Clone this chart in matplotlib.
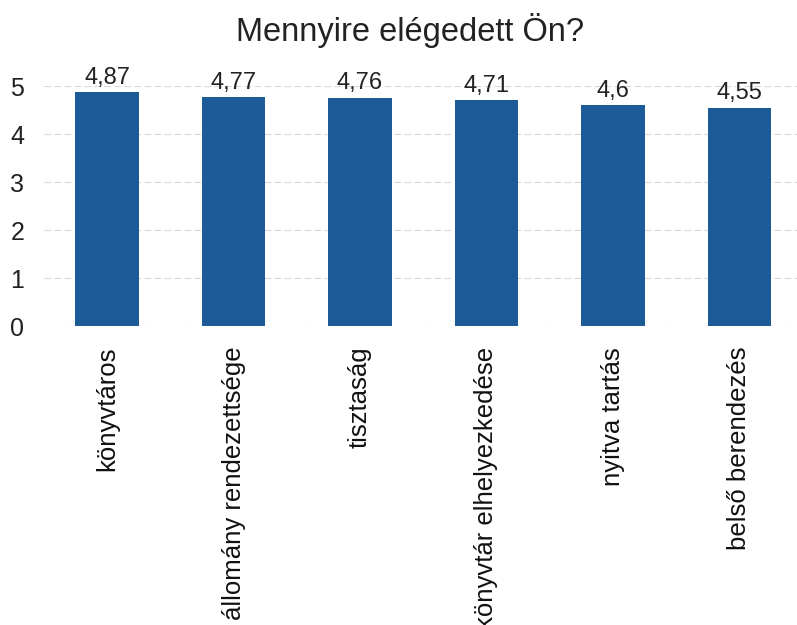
import matplotlib.pyplot as plt
import numpy as np

plt.rcParams['font.family'] = ['Liberation Sans', 'DejaVu Sans']

categories = ["könyvtáros", "állomány rendezettsége", "tisztaság",
              "könyvtár elhelyezkedése", "nyitva tartás", "belső berendezés"]
values = [4.87, 4.77, 4.76, 4.71, 4.6, 4.55]
value_labels = ["4,87", "4,77", "4,76", "4,71", "4,6", "4,55"]

fig = plt.figure(figsize=(7.97, 6.25), dpi=100)
ax = fig.add_axes([0.055, 0.4784, 0.952, 0.384])

x = np.arange(len(categories))
ax.bar(x, values, width=0.5, color="#1c5a98", zorder=3)

for xi, v, lab in zip(x, values, value_labels):
  ax.text(xi, v + 0.07, lab, ha="center", va="bottom", fontsize=17, color="#222222")

ax.set_xlim(-0.5, 5.5)
ax.set_ylim(0, 5)
ax.set_yticks(range(0, 6))
ax.tick_params(axis="y", length=0, labelsize=18, pad=14, colors="#222222")
ax.set_xticks(x)
ax.set_xticklabels(categories, rotation=90, fontsize=18.5, va="top", color="#111111")
ax.tick_params(axis="x", length=0, pad=15)

ax.grid(axis="y", color="#d8d8d8", linestyle=(0, (6, 3)), linewidth=0.8, zorder=0)
for s in ax.spines.values():
  s.set_visible(False)

fig.text(0.515, 0.952, "Mennyire elégedett Ön?", ha="center", va="center", fontsize=23.5, color="#222222")

plt.savefig("out.png", dpi=100)
